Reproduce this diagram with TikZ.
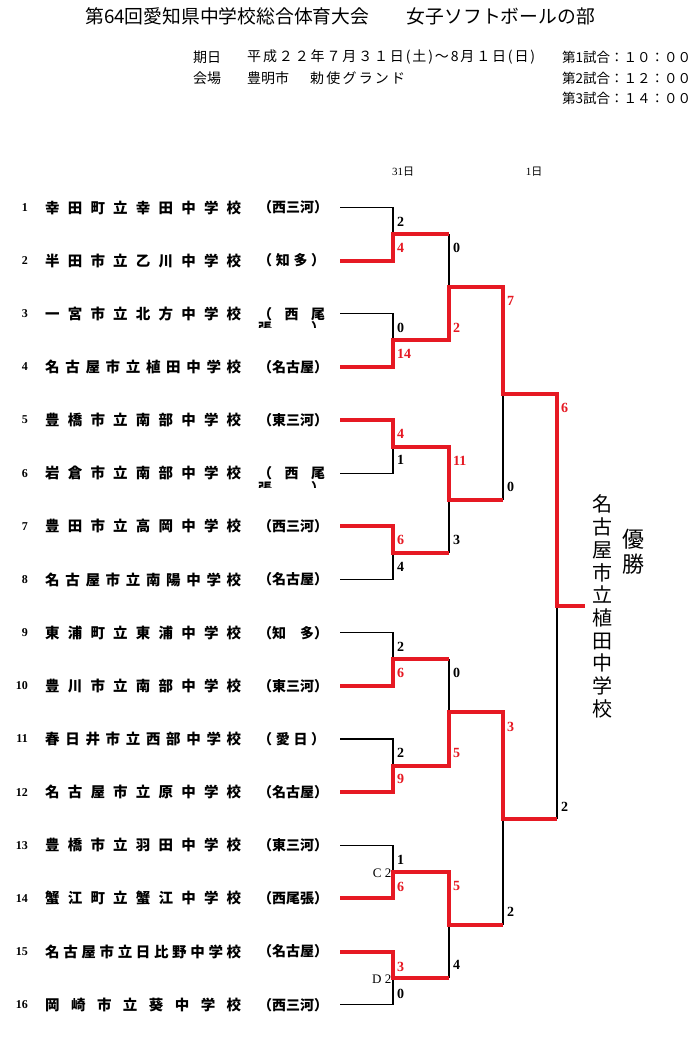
\documentclass[tikz,border=0pt]{standalone}
\usepackage{fontspec}
\setmainfont{Noto Sans CJK JP}
\newfontfamily\numfont{Liberation Serif}
\usetikzlibrary{calc}
\definecolor{wred}{RGB}{230,25,35}
\def\jz#1#2{\makebox[#1][s]{\expandafter\jzA#2\relax}}
\def\jzA#1{#1\jzB}
\def\jzB#1{\ifx#1\relax\else\hfil#1\expandafter\jzB\fi}
\newcommand\scnode[5]{\node[#4] (#1) at ($#2+(4,#3)$) {#5};}
\begin{document}
\begin{tikzpicture}[x=1pt,y=-1pt,
  lose/.style={black,line width=1.2pt},
  win/.style={wred,line width=4pt,line join=miter},
  hdr/.style={anchor=west,inner sep=0,font=\fontsize{14}{15}\selectfont},
  hdrr/.style={anchor=west,inner sep=0,font=\fontsize{13.5}{15}\selectfont},
  tnum/.style={anchor=east,inner sep=0,font=\numfont\bfseries\fontsize{12}{12}\selectfont},
  tname/.style={anchor=west,inner sep=0,font=\bfseries\fontsize{14.5}{15}\selectfont},
  treg/.style={anchor=west,inner sep=0,font=\bfseries\fontsize{14}{15}\selectfont},
  sb/.style={anchor=west,inner sep=0,font=\numfont\bfseries\fontsize{14}{14}\selectfont},
  sr/.style={sb,text=wred},
  seed/.style={anchor=east,inner sep=0,font=\numfont\fontsize{13}{13}\selectfont},
  colhd/.style={inner sep=0,font=\fontsize{11}{11}\selectfont}]
\useasboundingbox (0,0) rectangle (700,1037);
\fill[white] (0,0) rectangle (700,1037);

% header
\node[anchor=west,inner sep=0,font=\fontsize{18.8}{20}\selectfont] (title) at (85,16) {第64回愛知県中学校総合体育大会　　女子ソフトボールの部};
\node[hdr] (kijitsu) at (193,57) {期日};
\node[hdr] (date) at (247,57) {\jz{288pt}{平成２２年７月３１日(土)～8月１日(日)}};
\node[hdr] (kaijo) at (193,78) {会場};
\node[hdr] (venue1) at (247,78) {豊明市};
\node[hdr] (venue2) at (310,78) {\jz{95pt}{勅使グランド}};
\node[hdrr] (g1) at (562,57) {第1試合：１０：００};
\node[hdrr] (g2) at (562,78) {第2試合：１２：００};
\node[hdrr] (g3) at (562,98) {第3試合：１４：００};
\node[colhd] (d31) at (403,172) {{\numfont 31}日};
\node[colhd] (d1) at (534,172) {{\numfont 1}日};

% teams
\foreach \i/\nm in {1/幸田町立幸田中学校,2/半田市立乙川中学校,3/一宮市立北方中学校,4/名古屋市立植田中学校,5/豊橋市立南部中学校,6/岩倉市立南部中学校,7/豊田市立高岡中学校,8/名古屋市立南陽中学校,9/東浦町立東浦中学校,10/豊川市立南部中学校,11/春日井市立西部中学校,12/名古屋市立原中学校,13/豊橋市立羽田中学校,14/蟹江町立蟹江中学校,15/名古屋市立日比野中学校,16/岡崎市立葵中学校}{
  \pgfmathsetmacro\yy{207.5+(\i-1)*53.15}
  \coordinate (t\i) at (340,\yy);
  \node[tnum] (n\i) at (28,\yy) {\i};
  \node[tname] (nm\i) at (45,\yy) {\jz{196pt}{\nm}};
}
\foreach \i/\rg in {1/（西三河）,2/（知多）,4/（名古屋）,5/（東三河）,7/（西三河）,8/（名古屋）,9/（知　多）,10/（東三河）,11/（愛日）,12/（名古屋）,13/（東三河）,14/（西尾張）,15/（名古屋）,16/（西三河）}{
  \pgfmathsetmacro\yy{207.5+(\i-1)*53.15}
  \node[treg] (rg\i) at (258,\yy) {\jz{67pt}{\rg}};
}
\foreach \i in {3,6}{
  \pgfmathsetmacro\yy{207.5+(\i-1)*53.15}
  \node[treg] (rg\i) at (258,\yy) {\jz{67pt}{（西尾}};
  \begin{scope}
    \clip (254,\yy+8) rectangle (332,\yy+14);
    \node[treg] (rgb\i) at (258,\yy+14.5) {\jz{67pt}{張）}};
  \end{scope}
}

% junctions
\foreach \k in {1,...,8}{
  \pgfmathtruncatemacro\a{2*\k-1}\pgfmathtruncatemacro\b{2*\k}
  \coordinate (m\k) at ($(t\a)!.5!(t\b)+(53,0)$);
}
\foreach \k in {1,...,4}{
  \pgfmathtruncatemacro\a{2*\k-1}\pgfmathtruncatemacro\b{2*\k}
  \coordinate (q\k) at ($(m\a)!.5!(m\b)+(56,0)$);
}
\coordinate (s1) at ($(q1)!.5!(q2)+(54,0)$);
\coordinate (s2) at ($(q3)!.5!(q4)+(54,0)$);
\coordinate (f) at ($(s1)!.5!(s2)+(54,0)$);
\coordinate (w) at ($(f)+(28,0)$);

% losing lines
\draw[lose] (t1) -| (m1);
\draw[lose] (t3) -| (m2);
\draw[lose] (t6) -| (m3);
\draw[lose] (t8) -| (m4);
\draw[lose] (t9) -| (m5);
\draw[lose] (t11) -| (m6);
\draw[lose] (t13) -| (m7);
\draw[lose] (t16) -| (m8);
\draw[lose] (m1 -| q1) -- (q1);
\draw[lose] (m4 -| q2) -- (q2);
\draw[lose] (m5 -| q3) -- (q3);
\draw[lose] (m8 -| q4) -- (q4);
\draw[lose] (q2 -| s1) -- (s1);
\draw[lose] (q4 -| s2) -- (s2);
\draw[lose] (s2 -| f) -- (f);

% winning lines
\draw[win] (t2) -| (m1) -- (m1 -| q1);
\draw[win] (t4) -| (m2) -| (q1) -| (s1) -| (f) -- (w);
\draw[win] (t5) -| (m3) -| (q2) -- (q2 -| s1);
\draw[win] (t7) -| (m4) -- (m4 -| q2);
\draw[win] (t10) -| (m5) -- (m5 -| q3);
\draw[win] (t12) -| (m6) -| (q3) -| (s2) -- (s2 -| f);
\draw[win] (t14) -| (m7) -| (q4) -- (q4 -| s2);
\draw[win] (t15) -| (m8) -- (m8 -| q4);

% scores round 1
\scnode{a1}{(m1|-t1)}{14}{sb}{2}  \scnode{b1}{(m1|-t2)}{-13}{sr}{4}
\scnode{a2}{(m2|-t3)}{14}{sb}{0}  \scnode{b2}{(m2|-t4)}{-13}{sr}{14}
\scnode{a3}{(m3|-t5)}{14}{sr}{4}  \scnode{b3}{(m3|-t6)}{-13}{sb}{1}
\scnode{a4}{(m4|-t7)}{14}{sr}{6}  \scnode{b4}{(m4|-t8)}{-13}{sb}{4}
\scnode{a5}{(m5|-t9)}{14}{sb}{2}  \scnode{b5}{(m5|-t10)}{-13}{sr}{6}
\scnode{a6}{(m6|-t11)}{14}{sb}{2} \scnode{b6}{(m6|-t12)}{-13}{sr}{9}
\scnode{a7}{(m7|-t13)}{15}{sb}{1} \scnode{b7}{(m7|-t14)}{-12}{sr}{6}
\scnode{a8}{(m8|-t15)}{15}{sr}{3} \scnode{b8}{(m8|-t16)}{-11}{sb}{0}
\node[seed] (c2) at ($(m7)+(-1.5,1.5)$) {C 2};
\node[seed] (d2) at ($(m8)+(-1.5,1)$) {D 2};
% quarterfinals
\scnode{qa1}{(q1|-m1)}{14}{sb}{0}  \scnode{qb1}{(q1|-m2)}{-13}{sr}{2}
\scnode{qa2}{(q2|-m3)}{14}{sr}{11} \scnode{qb2}{(q2|-m4)}{-13}{sb}{3}
\scnode{qa3}{(q3|-m5)}{14}{sb}{0}  \scnode{qb3}{(q3|-m6)}{-13}{sr}{5}
\scnode{qa4}{(q4|-m7)}{14}{sr}{5}  \scnode{qb4}{(q4|-m8)}{-13}{sb}{4}
% semifinals
\scnode{sa1}{(s1|-q1)}{14}{sr}{7} \scnode{sb1}{(s1|-q2)}{-13}{sb}{0}
\scnode{sa2}{(s2|-q3)}{14}{sr}{3} \scnode{sb2}{(s2|-q4)}{-13}{sb}{2}
% final
\scnode{fa}{(f|-s1)}{14}{sr}{6} \scnode{fb}{(f|-s2)}{-12}{sb}{2}

% champion
\node[align=center,inner sep=0,font=\fontsize{20}{22.7}\selectfont] (champ) at (602,606.5) {名\\古\\屋\\市\\立\\植\\田\\中\\学\\校};
\node[align=center,inner sep=0,font=\fontsize{22}{25}\selectfont] (yusho) at (633,552) {優\\勝};
\end{tikzpicture}
\end{document}
